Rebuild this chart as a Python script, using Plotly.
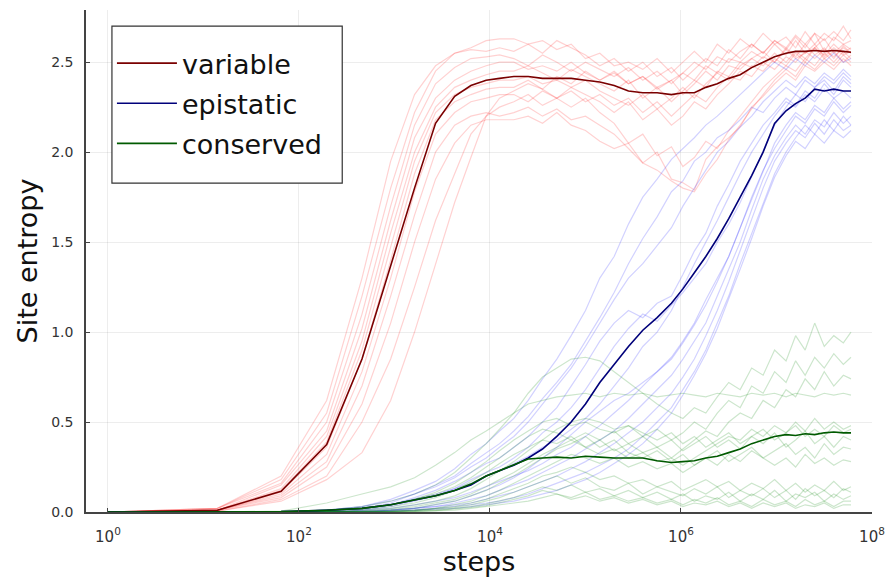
import plotly.graph_objects as go

steps = [1, 14, 65, 195, 457, 912, 1622, 2692, 4266, 6310, 9120, 12589, 17783, 25119,
         35481, 50119, 70795, 100000, 141254, 199526, 281838, 398107, 562341, 794328,
         1047129, 1380384, 1819701, 2398833, 3162278, 4168694, 5495409, 7244360,
         9549926, 12589254, 15848932, 19952623, 25118864, 31622777, 39810717,
         50118723, 60255959]

variable_runs = [
    [0, 0.02, 0.20, 0.62, 1.30, 1.95, 2.32, 2.48, 2.55, 2.58, 2.62, 2.63,
     2.63, 2.60, 2.62, 2.57, 2.60, 2.52, 2.55, 2.48, 2.50, 2.46, 2.52, 2.44, 2.50, 2.56, 2.50, 2.60, 2.55, 2.63, 2.58, 2.66, 2.60, 2.64, 2.58, 2.67, 2.60, 2.66, 2.62, 2.70, 2.63],
    [0, 0.02, 0.18, 0.55, 1.20, 1.80, 2.22, 2.45, 2.55, 2.57, 2.56, 2.58,
     2.56, 2.60, 2.55, 2.62, 2.58, 2.54, 2.48, 2.52, 2.45, 2.50, 2.42, 2.47, 2.40, 2.46, 2.52, 2.48, 2.57, 2.52, 2.60, 2.55, 2.62, 2.57, 2.64, 2.58, 2.66, 2.56, 2.64, 2.60, 2.62],
    [0, 0.02, 0.16, 0.50, 1.10, 1.70, 2.15, 2.38, 2.47, 2.52, 2.53, 2.54,
     2.52, 2.48, 2.54, 2.50, 2.45, 2.50, 2.46, 2.42, 2.47, 2.40, 2.45, 2.38, 2.44, 2.40, 2.48, 2.44, 2.52, 2.50, 2.56, 2.52, 2.60, 2.54, 2.62, 2.55, 2.58, 2.63, 2.55, 2.60, 2.57],
    [0, 0.01, 0.15, 0.45, 1.02, 1.62, 2.08, 2.30, 2.40, 2.45, 2.48, 2.50,
     2.50, 2.46, 2.48, 2.45, 2.50, 2.44, 2.40, 2.45, 2.38, 2.42, 2.35, 2.40, 2.32, 2.38, 2.45, 2.40, 2.48, 2.46, 2.52, 2.56, 2.50, 2.58, 2.53, 2.60, 2.54, 2.58, 2.52, 2.59, 2.55],
    [0, 0.01, 0.13, 0.42, 0.95, 1.55, 2.00, 2.25, 2.36, 2.40, 2.43, 2.45,
     2.45, 2.48, 2.44, 2.40, 2.46, 2.42, 2.38, 2.34, 2.40, 2.30, 2.36, 2.28, 2.34, 2.40, 2.36, 2.45, 2.42, 2.50, 2.47, 2.53, 2.50, 2.57, 2.52, 2.55, 2.60, 2.53, 2.58, 2.54, 2.56],
    [0, 0.01, 0.12, 0.39, 0.90, 1.48, 1.95, 2.22, 2.32, 2.36, 2.38, 2.40,
     2.40, 2.42, 2.38, 2.40, 2.36, 2.40, 2.34, 2.30, 2.26, 2.32, 2.24, 2.30, 2.36, 2.30, 2.38, 2.44, 2.40, 2.48, 2.52, 2.48, 2.55, 2.50, 2.56, 2.52, 2.58, 2.54, 2.60, 2.55, 2.58],
    [0, 0.01, 0.11, 0.36, 0.85, 1.40, 1.88, 2.18, 2.28, 2.32, 2.35, 2.36,
     2.36, 2.40, 2.35, 2.30, 2.36, 2.32, 2.28, 2.22, 2.28, 2.18, 2.24, 2.15, 2.20, 2.28, 2.24, 2.32, 2.38, 2.45, 2.42, 2.50, 2.46, 2.53, 2.50, 2.56, 2.52, 2.57, 2.53, 2.58, 2.55],
    [0, 0.01, 0.10, 0.32, 0.78, 1.30, 1.78, 2.10, 2.22, 2.28, 2.30, 2.32,
     2.32, 2.28, 2.34, 2.30, 2.25, 2.30, 2.22, 2.16, 2.05, 2.10, 1.98, 2.03, 1.92, 1.97, 2.06, 2.02, 2.12, 2.20, 2.28, 2.36, 2.42, 2.48, 2.45, 2.52, 2.48, 2.55, 2.50, 2.56, 2.52],
    [0, 0.01, 0.09, 0.28, 0.70, 1.20, 1.65, 2.00, 2.15, 2.20, 2.22, 2.20,
     2.22, 2.25, 2.20, 2.24, 2.18, 2.20, 2.15, 2.10, 2.02, 1.94, 1.90, 1.84, 1.80, 1.78, 1.88, 1.96, 2.07, 2.15, 2.24, 2.32, 2.40, 2.46, 2.42, 2.50, 2.46, 2.52, 2.48, 2.54, 2.50],
    [0, 0.01, 0.08, 0.25, 0.60, 1.05, 1.50, 1.85, 2.05, 2.15, 2.18, 2.18,
     2.18, 2.20, 2.16, 2.22, 2.15, 2.12, 2.06, 2.02, 2.05, 1.94, 2.00, 1.85, 1.83, 1.79, 1.96, 2.03, 2.08, 2.14, 2.25, 2.31, 2.38, 2.44, 2.40, 2.48, 2.45, 2.50, 2.46, 2.52, 2.48],
    [0, 0.005, 0.07, 0.20, 0.50, 0.85, 1.25, 1.62, 1.88, 2.10, 2.20, 2.25,
     2.28, 2.32, 2.26, 2.30, 2.34, 2.28, 2.32, 2.26, 2.30, 2.22, 2.28, 2.20, 2.26, 2.32, 2.28, 2.36, 2.42, 2.40, 2.48, 2.45, 2.52, 2.48, 2.55, 2.50, 2.58, 2.52, 2.56, 2.50, 2.54],
    [0, 0.005, 0.06, 0.18, 0.33, 0.62, 1.00, 1.38, 1.72, 1.97, 2.20, 2.30,
     2.34, 2.38, 2.35, 2.42, 2.38, 2.45, 2.40, 2.44, 2.38, 2.42, 2.36, 2.40, 2.44, 2.50, 2.46, 2.53, 2.50, 2.56, 2.60, 2.55, 2.62, 2.58, 2.65, 2.60, 2.66, 2.62, 2.67, 2.62, 2.68],
]

epistatic_runs = [
    [0, 0, 0, 0.01, 0.03, 0.07, 0.12, 0.17, 0.24, 0.32, 0.38, 0.45, 0.52, 0.62, 0.74, 0.85, 0.98, 1.12, 1.30, 1.42, 1.60, 1.75, 1.85, 1.96, 2.02, 2.08, 2.15, 2.20, 2.26, 2.32, 2.38, 2.44, 2.50, 2.46, 2.52, 2.48, 2.54, 2.50, 2.55, 2.50, 2.52],
    [0, 0, 0, 0.01, 0.02, 0.05, 0.10, 0.15, 0.20, 0.27, 0.33, 0.38, 0.45, 0.53, 0.63, 0.72, 0.82, 0.95, 1.08, 1.22, 1.38, 1.52, 1.64, 1.78, 1.84, 1.95, 2.00, 2.08, 2.12, 2.18, 2.25, 2.22, 2.30, 2.36, 2.32, 2.40, 2.36, 2.42, 2.38, 2.44, 2.40],
    [0, 0, 0, 0.005, 0.02, 0.04, 0.08, 0.12, 0.17, 0.22, 0.27, 0.30, 0.36, 0.42, 0.50, 0.58, 0.70, 0.82, 0.95, 1.05, 1.12, 1.08, 1.16, 1.20, 1.32, 1.45, 1.55, 1.70, 1.82, 1.95, 2.05, 2.15, 2.22, 2.30, 2.26, 2.34, 2.30, 2.38, 2.32, 2.40, 2.36],
    [0, 0, 0, 0, 0.01, 0.03, 0.06, 0.09, 0.13, 0.18, 0.22, 0.25, 0.30, 0.36, 0.44, 0.50, 0.58, 0.68, 0.80, 0.92, 1.02, 1.10, 1.06, 1.15, 1.22, 1.30, 1.38, 1.50, 1.60, 1.72, 1.86, 2.00, 2.15, 2.25, 2.32, 2.28, 2.36, 2.40, 2.34, 2.42, 2.38],
    [0, 0, 0, 0.005, 0.02, 0.04, 0.07, 0.10, 0.13, 0.16, 0.20, 0.23, 0.27, 0.31, 0.36, 0.40, 0.46, 0.52, 0.60, 0.70, 0.80, 0.92, 1.00, 1.12, 1.25, 1.38, 1.50, 1.62, 1.75, 1.88, 2.00, 2.10, 2.20, 2.28, 2.25, 2.32, 2.28, 2.35, 2.30, 2.34, 2.30],
    [0, 0, 0, 0, 0.01, 0.02, 0.04, 0.06, 0.08, 0.11, 0.14, 0.17, 0.20, 0.23, 0.27, 0.32, 0.36, 0.42, 0.48, 0.55, 0.62, 0.70, 0.78, 0.86, 0.95, 1.05, 1.18, 1.30, 1.42, 1.58, 1.75, 1.90, 2.02, 2.12, 2.20, 2.16, 2.24, 2.20, 2.28, 2.22, 2.26],
    [0, 0, 0, 0, 0.005, 0.01, 0.02, 0.03, 0.05, 0.07, 0.09, 0.12, 0.15, 0.18, 0.22, 0.26, 0.30, 0.35, 0.40, 0.45, 0.52, 0.60, 0.68, 0.76, 0.85, 0.95, 1.05, 1.20, 1.35, 1.50, 1.68, 1.85, 1.98, 2.08, 2.15, 2.10, 2.18, 2.14, 2.22, 2.16, 2.20],
    [0, 0, 0, 0, 0, 0.01, 0.02, 0.03, 0.04, 0.05, 0.07, 0.09, 0.11, 0.14, 0.17, 0.20, 0.24, 0.28, 0.33, 0.38, 0.44, 0.50, 0.58, 0.66, 0.75, 0.85, 0.98, 1.12, 1.28, 1.45, 1.62, 1.80, 1.95, 2.05, 2.12, 2.08, 2.16, 2.10, 2.18, 2.12, 2.15],
    [0, 0, 0, 0, 0, 0.005, 0.01, 0.02, 0.03, 0.04, 0.05, 0.06, 0.08, 0.10, 0.13, 0.16, 0.19, 0.22, 0.26, 0.30, 0.35, 0.42, 0.50, 0.58, 0.68, 0.78, 0.90, 1.05, 1.20, 1.38, 1.55, 1.72, 1.88, 2.00, 2.08, 2.15, 2.10, 2.18, 2.12, 2.20, 2.15],
    [0, 0, 0, 0, 0.005, 0.01, 0.02, 0.04, 0.06, 0.09, 0.12, 0.15, 0.19, 0.24, 0.30, 0.36, 0.43, 0.50, 0.56, 0.62, 0.66, 0.72, 0.78, 0.85, 0.94, 1.04, 1.15, 1.28, 1.42, 1.58, 1.74, 1.90, 2.05, 2.15, 2.22, 2.18, 2.26, 2.22, 2.30, 2.24, 2.28],
    [0, 0, 0, 0, 0, 0.005, 0.01, 0.015, 0.02, 0.03, 0.04, 0.05, 0.06, 0.08, 0.10, 0.12, 0.15, 0.18, 0.22, 0.27, 0.32, 0.38, 0.46, 0.55, 0.65, 0.76, 0.88, 1.02, 1.18, 1.35, 1.52, 1.70, 1.86, 1.98, 2.06, 2.02, 2.10, 2.05, 2.12, 2.08, 2.12],
    [0, 0, 0, 0.01, 0.03, 0.06, 0.10, 0.14, 0.19, 0.25, 0.30, 0.36, 0.42, 0.50, 0.60, 0.70, 0.80, 0.92, 1.05, 1.18, 1.30, 1.38, 1.48, 1.58, 1.70, 1.80, 1.90, 2.00, 2.06, 2.14, 2.20, 2.28, 2.34, 2.40, 2.36, 2.42, 2.38, 2.44, 2.40, 2.46, 2.42],
]

conserved_runs = [
    [0, 0, 0.005, 0.05, 0.10, 0.14, 0.19, 0.26, 0.33, 0.40, 0.45, 0.50, 0.55, 0.60, 0.62, 0.64, 0.65, 0.66, 0.64, 0.66, 0.65, 0.66, 0.64, 0.65, 0.66, 0.65, 0.64, 0.66, 0.65, 0.64, 0.66, 0.65, 0.66, 0.64, 0.66, 0.65, 0.64, 0.66, 0.65, 0.66, 0.65],
    [0, 0, 0, 0.01, 0.03, 0.06, 0.10, 0.15, 0.22, 0.30, 0.38, 0.46, 0.55, 0.66, 0.75, 0.80, 0.85, 0.86, 0.84, 0.78, 0.72, 0.66, 0.60, 0.55, 0.52, 0.58, 0.55, 0.64, 0.72, 0.68, 0.80, 0.76, 0.90, 0.84, 0.98, 0.90, 1.05, 0.92, 0.98, 0.94, 1.00],
    [0, 0, 0, 0.005, 0.02, 0.04, 0.07, 0.11, 0.16, 0.22, 0.28, 0.34, 0.40, 0.45, 0.50, 0.52, 0.48, 0.50, 0.46, 0.44, 0.48, 0.42, 0.46, 0.40, 0.44, 0.50, 0.46, 0.55, 0.62, 0.58, 0.70, 0.66, 0.78, 0.72, 0.84, 0.76, 0.86, 0.80, 0.88, 0.82, 0.86],
    [0, 0, 0, 0.005, 0.015, 0.03, 0.05, 0.08, 0.12, 0.17, 0.22, 0.27, 0.32, 0.36, 0.40, 0.38, 0.42, 0.36, 0.40, 0.34, 0.38, 0.33, 0.36, 0.30, 0.35, 0.40, 0.45, 0.42, 0.50, 0.55, 0.52, 0.62, 0.58, 0.68, 0.64, 0.74, 0.68, 0.78, 0.70, 0.76, 0.74],
    [0, 0, 0, 0, 0.01, 0.02, 0.04, 0.06, 0.09, 0.13, 0.18, 0.23, 0.28, 0.34, 0.40, 0.46, 0.50, 0.52, 0.50, 0.46, 0.48, 0.44, 0.40, 0.44, 0.38, 0.42, 0.36, 0.40, 0.44, 0.38, 0.42, 0.46, 0.40, 0.44, 0.48, 0.42, 0.46, 0.42, 0.48, 0.44, 0.46],
    [0, 0, 0, 0, 0.005, 0.015, 0.03, 0.05, 0.07, 0.10, 0.14, 0.18, 0.22, 0.27, 0.32, 0.36, 0.40, 0.44, 0.40, 0.45, 0.38, 0.42, 0.36, 0.40, 0.34, 0.38, 0.42, 0.36, 0.40, 0.35, 0.42, 0.38, 0.44, 0.36, 0.40, 0.45, 0.38, 0.42, 0.36, 0.42, 0.40],
    [0, 0, 0, 0, 0.005, 0.01, 0.02, 0.04, 0.06, 0.09, 0.12, 0.16, 0.20, 0.25, 0.30, 0.35, 0.38, 0.42, 0.36, 0.40, 0.33, 0.30, 0.34, 0.28, 0.32, 0.26, 0.30, 0.34, 0.28, 0.32, 0.36, 0.30, 0.34, 0.38, 0.32, 0.36, 0.30, 0.38, 0.32, 0.36, 0.35],
    [0, 0, 0, 0, 0, 0.005, 0.01, 0.02, 0.04, 0.06, 0.09, 0.12, 0.16, 0.20, 0.24, 0.28, 0.32, 0.30, 0.27, 0.30, 0.25, 0.28, 0.24, 0.27, 0.22, 0.26, 0.30, 0.26, 0.32, 0.28, 0.34, 0.30, 0.26, 0.30, 0.25, 0.32, 0.27, 0.30, 0.26, 0.29, 0.28],
    [0, 0, 0, 0, 0, 0.005, 0.01, 0.02, 0.03, 0.05, 0.07, 0.10, 0.13, 0.16, 0.20, 0.22, 0.25, 0.22, 0.18, 0.20, 0.16, 0.18, 0.14, 0.17, 0.12, 0.15, 0.18, 0.14, 0.17, 0.12, 0.16, 0.13, 0.18, 0.12, 0.16, 0.11, 0.15, 0.12, 0.17, 0.12, 0.14],
    [0, 0, 0, 0, 0, 0.003, 0.008, 0.015, 0.025, 0.04, 0.06, 0.08, 0.11, 0.14, 0.17, 0.20, 0.16, 0.19, 0.14, 0.12, 0.16, 0.10, 0.14, 0.11, 0.09, 0.13, 0.10, 0.14, 0.08, 0.12, 0.09, 0.13, 0.08, 0.12, 0.07, 0.13, 0.09, 0.12, 0.08, 0.13, 0.11],
    [0, 0, 0, 0, 0, 0.002, 0.005, 0.01, 0.02, 0.03, 0.045, 0.06, 0.08, 0.11, 0.14, 0.12, 0.15, 0.11, 0.13, 0.09, 0.12, 0.08, 0.11, 0.07, 0.10, 0.06, 0.09, 0.07, 0.11, 0.06, 0.10, 0.07, 0.12, 0.06, 0.10, 0.08, 0.11, 0.06, 0.10, 0.07, 0.09],
    [0, 0, 0, 0, 0, 0.002, 0.004, 0.008, 0.015, 0.025, 0.035, 0.05, 0.07, 0.09, 0.12, 0.10, 0.08, 0.11, 0.07, 0.09, 0.06, 0.08, 0.05, 0.07, 0.04, 0.07, 0.05, 0.08, 0.04, 0.06, 0.03, 0.07, 0.04, 0.06, 0.03, 0.07, 0.04, 0.06, 0.03, 0.06, 0.06],
    [0, 0, 0, 0.01, 0.02, 0.04, 0.07, 0.10, 0.14, 0.19, 0.25, 0.30, 0.36, 0.42, 0.46, 0.44, 0.40, 0.36, 0.32, 0.35, 0.30, 0.33, 0.28, 0.30, 0.26, 0.30, 0.34, 0.38, 0.42, 0.40, 0.46, 0.42, 0.48, 0.44, 0.50, 0.45, 0.52, 0.46, 0.50, 0.46, 0.48],
    [0, 0, 0, 0, 0, 0, 0.003, 0.006, 0.01, 0.02, 0.03, 0.04, 0.05, 0.06, 0.08, 0.10, 0.07, 0.09, 0.06, 0.08, 0.05, 0.07, 0.04, 0.06, 0.03, 0.05, 0.04, 0.06, 0.03, 0.05, 0.02, 0.05, 0.03, 0.05, 0.02, 0.04, 0.03, 0.05, 0.02, 0.04, 0.04],
]

variable_mean = [0, 0.01, 0.115, 0.375, 0.85, 1.37, 1.80, 2.16, 2.31, 2.37, 2.40, 2.41,
                 2.42, 2.42, 2.41, 2.41, 2.41, 2.40, 2.39, 2.37, 2.34, 2.33, 2.33, 2.32,
                 2.33, 2.33, 2.36, 2.38, 2.41, 2.43, 2.47, 2.50, 2.53, 2.55, 2.56, 2.56,
                 2.565, 2.56, 2.565, 2.56, 2.555]
epistatic_mean = [0, 0, 0.002, 0.01, 0.02, 0.04, 0.065, 0.09, 0.12, 0.15, 0.20, 0.23,
                  0.26, 0.30, 0.35, 0.42, 0.50, 0.60, 0.72, 0.82, 0.92, 1.01, 1.08, 1.16,
                  1.24, 1.33, 1.42, 1.52, 1.63, 1.75, 1.87, 2.00, 2.16, 2.23, 2.27, 2.30,
                  2.35, 2.34, 2.35, 2.34, 2.34]
conserved_mean = [0, 0, 0.002, 0.01, 0.02, 0.04, 0.065, 0.09, 0.12, 0.155, 0.20, 0.23,
                  0.265, 0.295, 0.30, 0.305, 0.30, 0.31, 0.305, 0.30, 0.30, 0.30, 0.285,
                  0.275, 0.28, 0.285, 0.30, 0.31, 0.33, 0.35, 0.38, 0.40, 0.42, 0.43,
                  0.425, 0.435, 0.43, 0.44, 0.445, 0.44, 0.44]

labels = ["variable", "epistatic", "conserved"]
faint_colors = ["rgba(255,0,0,0.18)", "rgba(0,0,255,0.18)", "rgba(0,128,0,0.2)"]
mean_colors = ["#7a0000", "#00007a", "#005a00"]

fig = go.Figure()
for runs, col in zip([variable_runs, epistatic_runs, conserved_runs], faint_colors):
    for r in runs:
        fig.add_trace(go.Scatter(x=steps, y=r, mode="lines", line=dict(color=col, width=1.2),
                                 showlegend=False, hoverinfo="skip"))
for i, (m, col) in enumerate(zip([variable_mean, epistatic_mean, conserved_mean], mean_colors)):
    fig.add_trace(go.Scatter(x=steps, y=m, mode="lines", name=labels[i],
                             legendgroup=labels[i], line=dict(color=col, width=1.6)))

tick_vals = [1, 100, 1e4, 1e6, 1e8]
tick_text = ["10<sup>0</sup>", "10<sup>2</sup>", "10<sup>4</sup>", "10<sup>6</sup>", "10<sup>8</sup>"]

# legend frame drawn as a shape (paper coordinates)
fig.add_shape(type="rect", xref="paper", yref="paper",
              x0=0.033, x1=0.326, y0=0.655, y1=0.968,
              line=dict(color="#333", width=1.2), fillcolor="white", layer="above")

fig.update_layout(
    width=895, height=585,
    margin=dict(l=86, r=18, t=10, b=73),
    paper_bgcolor="white", plot_bgcolor="white",
    font=dict(family="DejaVu Sans", color="#222"),
    showlegend=True,
    legend=dict(x=0.033, y=0.942, xanchor="left", yanchor="top",
                borderwidth=0, bgcolor="rgba(0,0,0,0)",
                font=dict(size=27, color="#111"), tracegroupgap=2,
                itemwidth=60, traceorder="grouped"),
    xaxis=dict(type="log", range=[-0.23, 8.0], tickvals=tick_vals, ticktext=tick_text,
               showgrid=True, gridcolor="rgba(0,0,0,0.07)", gridwidth=1,
               showline=True, linecolor="#444", linewidth=1.5,
               ticks="inside", ticklen=4, tickcolor="#444",
               tickfont=dict(size=15, color="#333"), zeroline=False,
               ticklabelstandoff=10,
               title=dict(text="steps", font=dict(size=27, color="#111"), standoff=4)),
    yaxis=dict(range=[0, 2.79], tickvals=[0, 0.5, 1.0, 1.5, 2.0, 2.5],
               ticktext=["0.0", "0.5", "1.0", "1.5", "2.0", "2.5"],
               showgrid=True, gridcolor="rgba(0,0,0,0.07)", gridwidth=1,
               showline=True, linecolor="#444", linewidth=1.5,
               ticks="inside", ticklen=4, tickcolor="#444",
               tickfont=dict(size=14, color="#333"), zeroline=False,
               ticklabelstandoff=8,
               title=dict(text="Site entropy", font=dict(size=27, color="#111"), standoff=6)),
)

fig.write_html("out.html")
